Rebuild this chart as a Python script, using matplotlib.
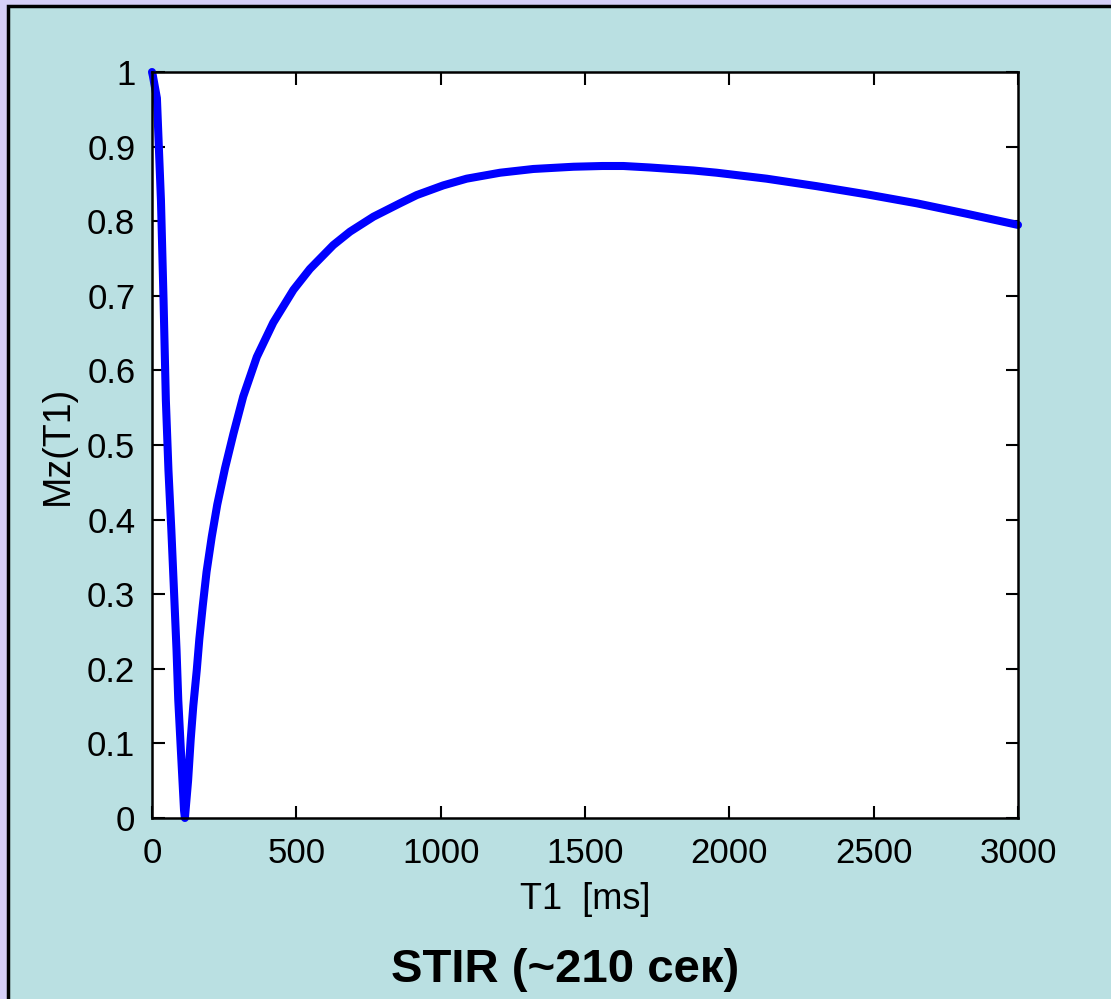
import matplotlib.pyplot as plt
from matplotlib.patches import Rectangle

# Mz(T1) curve for the STIR sequence, read point by point
t1_ms = [0, 3, 17, 31, 40, 48, 57, 67, 76, 85, 91, 100, 111, 114,
         125, 134, 143, 155, 164, 176, 189, 207, 226, 253, 282, 316,
         363, 420, 490, 547, 628, 686, 767, 859, 917, 1009, 1090, 1206,
         1321, 1460, 1560, 1633, 1725, 1875, 1956, 2129, 2302, 2476, 2649,
         2822, 3000]
mz = [1.0, 0.995, 0.965, 0.828, 0.694, 0.560, 0.466, 0.386, 0.306, 0.225,
      0.158, 0.091, 0.01, 0.0,
      0.050, 0.105, 0.150, 0.198, 0.240, 0.285, 0.330, 0.377, 0.420,
      0.469, 0.515, 0.565, 0.618, 0.664, 0.708, 0.736, 0.768, 0.786,
      0.806, 0.824, 0.835, 0.848, 0.857, 0.865, 0.870, 0.873, 0.874,
      0.874, 0.872, 0.868, 0.865, 0.857, 0.847, 0.836, 0.824, 0.810, 0.795]

x_ticks = [0, 500, 1000, 1500, 2000, 2500, 3000]
y_ticks = [0, 0.1, 0.2, 0.3, 0.4, 0.5, 0.6, 0.7, 0.8, 0.9, 1]
y_ticklabels = ['0', '0.1', '0.2', '0.3', '0.4', '0.5', '0.6', '0.7', '0.8', '0.9', '1']

plt.rcParams['font.family'] = ['Liberation Sans', 'DejaVu Sans']

fig = plt.figure(figsize=(11.11, 9.99), dpi=100)
fig.patch.set_facecolor('#d6cff7')

# slide panel with dark edge on the top and left
panel = Rectangle((8 / 1111, -0.01), 1.0, 1 - 6 / 999 + 0.01,
                  transform=fig.transFigure, facecolor='#bae0e2',
                  edgecolor='black', linewidth=2.5, zorder=-10)
fig.patches.append(panel)

ax = fig.add_axes([152 / 1111, 181 / 999, 866 / 1111, 746 / 999])
ax.set_zorder(1)
ax.set_facecolor('white')
ax.plot(t1_ms, mz, color='#0000ff', linewidth=5.8, solid_capstyle='round',
        solid_joinstyle='round', clip_on=False)

ax.set_xlim(0, 3000)
ax.set_ylim(0, 1)
ax.set_xticks(x_ticks)
ax.set_yticks(y_ticks)
ax.set_yticklabels(y_ticklabels)
ax.tick_params(direction='in', length=9, width=1.5, top=True, right=True,
               labelsize=25, pad=12)
ax.tick_params(axis='x', pad=14)
for side in ax.spines.values():
    side.set_linewidth(1.8)

ax.set_xlabel('T1  [ms]', fontsize=26, labelpad=8)
ax.set_ylabel('Mz(T1)', fontsize=27, labelpad=8)

fig.text(0.509, 0.029, 'STIR (~210 сек)', ha='center', va='center',
         fontsize=34, fontweight='bold')

fig.savefig('out.png', dpi=100, facecolor=fig.get_facecolor())
